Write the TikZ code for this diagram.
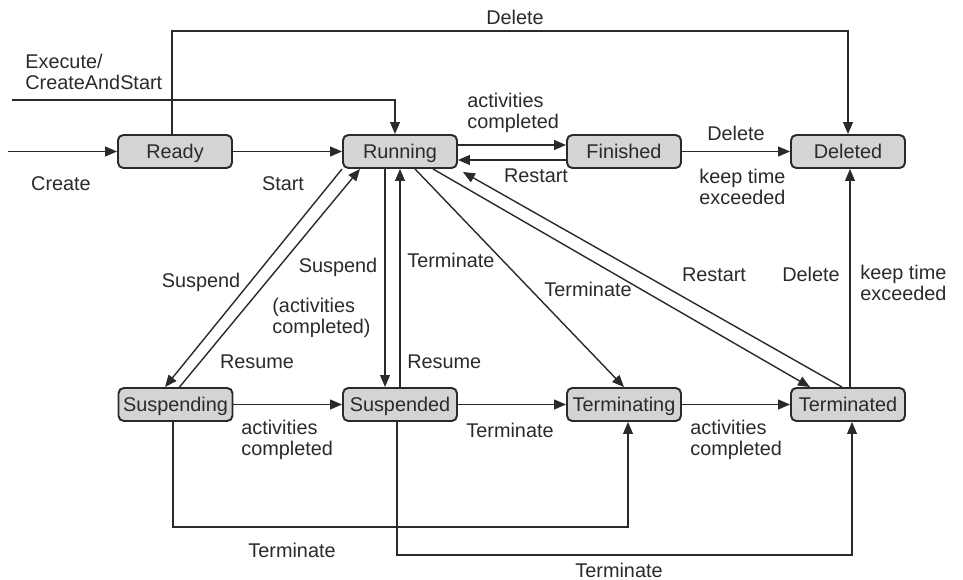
\documentclass[tikz,border=0pt]{standalone}
\usepackage{fontspec}
\setmainfont{Liberation Sans}
\usetikzlibrary{arrows.meta}
\definecolor{stateink}{HTML}{2A2A2A}
\definecolor{statefill}{HTML}{D4D4D4}

\begin{document}
\begin{tikzpicture}[
  x=0.02cm,
  y=-0.02cm,
  every node/.style={font=\fontsize{11.3}{12}\selectfont, text=stateink},
  state/.style={draw=stateink, fill=statefill, line width=1.1pt,
    rounded corners=3pt, minimum width=2.28cm, minimum height=0.66cm, inner sep=0pt,
    text height=8pt, text depth=0pt},
  trans/.style={draw=stateink, line width=0.8pt,
    -{Triangle[length=6.8pt, width=5.6pt]}},
  lbl/.style={inner sep=0pt, align=left}
]
  \useasboundingbox (0,0) rectangle (963,580);

  % States
  \node[state] (ready)       at (175,151.5) {Ready};
  \node[state] (running)     at (400,151.5) {Running};
  \node[state] (finished)    at (624,151.5) {Finished};
  \node[state] (deleted)     at (848,151.5) {Deleted};
  \node[state] (suspending)  at (175.5,404.5) {Suspending};
  \node[state] (suspended)   at (400,404.5) {Suspended};
  \node[state] (terminating) at (624,404.5) {Terminating};
  \node[state] (terminated)  at (848,404.5) {Terminated};

  % Entry points
  \coordinate (createin) at (8,151.5);
  \coordinate (execin) at (12,100);
  \coordinate (delcorner) at (848,31);

  % Top row
  \draw[trans] (createin) -- (ready);
  \node[lbl] (createlbl) at (61,184) {Create};
  \draw[trans] (ready) -- (running);
  \node[lbl] (startlbl) at (283,184) {Start};
  \draw[trans] (execin) -| ([xshift=-0.1cm]running.north);
  \node[lbl, anchor=west] (execlbl) at (25,72) {Execute/\\CreateAndStart};
  \draw[trans] ([xshift=-0.06cm]ready.north) |- (delcorner) -- (deleted.north);
  \node[lbl] (dellbl) at (515,17) {Delete};
  \draw[trans] ([yshift=0.13cm]running.east) -- ([yshift=0.13cm]finished.west);
  \node[lbl, anchor=west] (actlbl) at (467,113) {activities\\completed};
  \draw[trans] ([yshift=-0.17cm]finished.west) -- ([yshift=-0.17cm]running.east);
  \node[lbl] (restartlbl) at (536,176) {Restart};
  \draw[trans] (finished) -- (deleted);
  \node[lbl] (fdellbl) at (736,133) {Delete};
  \node[lbl, anchor=west] (fkeeplbl) at (699,187) {keep time\\exceeded};

  % Running to the lower row
  \draw[trans] (running.south west) -- ([xshift=-0.21cm]suspending.north);
  \node[lbl] (susplbl) at (201,282) {Suspend};
  \draw[trans] ([xshift=0.08cm]suspending.north) -- ([xshift=-0.8cm]running.south);
  \node[lbl] (resumelbl) at (257,362) {Resume};
  \draw[trans] ([xshift=-0.3cm]running.south) -- ([xshift=-0.3cm]suspended.north);
  \node[lbl] (susp2lbl) at (338,267) {Suspend};
  \node[lbl, anchor=west] (suspactlbl) at (272,318) {(activities\\completed)};
  \draw[trans] (suspended.north) -- (running.south);
  \node[lbl, anchor=west] (term1lbl) at (407,260) {Terminate};
  \node[lbl, anchor=west] (resume2lbl) at (407,362) {Resume};
  \draw[trans] ([xshift=0.3cm]running.south) -- (terminating.north);
  \draw[trans] ([xshift=0.66cm]running.south) -- ([xshift=-0.76cm]terminated.north);
  \node[lbl] (term2lbl) at (588,289) {Terminate};
  \draw[trans] ([xshift=-0.12cm]terminated.north) -- ([xshift=0.1cm,yshift=-0.06cm]running.south east);
  \node[lbl] (restart2lbl) at (714,275) {Restart};
  \draw[trans] ([xshift=0.04cm]terminated.north) -- ([xshift=0.04cm]deleted.south);
  \node[lbl] (tdellbl) at (811,274) {Delete};
  \node[lbl, anchor=west] (tkeeplbl) at (860,283) {keep time\\exceeded};

  % Lower row
  \draw[trans] (suspending) -- (suspended);
  \node[lbl, anchor=west] (act2lbl) at (241,440) {activities\\completed};
  \draw[trans] (suspended) -- (terminating);
  \node[lbl] (term3lbl) at (510,430) {Terminate};
  \draw[trans] (terminating) -- (terminated);
  \node[lbl, anchor=west] (act3lbl) at (690,440) {activities\\completed};

  % Routes below
  \draw[trans] ([xshift=-0.05cm]suspending.south) -- ++(0,105) -| ([xshift=0.08cm]terminating.south);
  \node[lbl] (term4lbl) at (292,550) {Terminate};
  \draw[trans] ([xshift=-0.06cm]suspended.south) -- ++(0,133) -| ([xshift=0.08cm]terminated.south);
  \node[lbl] (term5lbl) at (619,570) {Terminate};
\end{tikzpicture}
\end{document}
